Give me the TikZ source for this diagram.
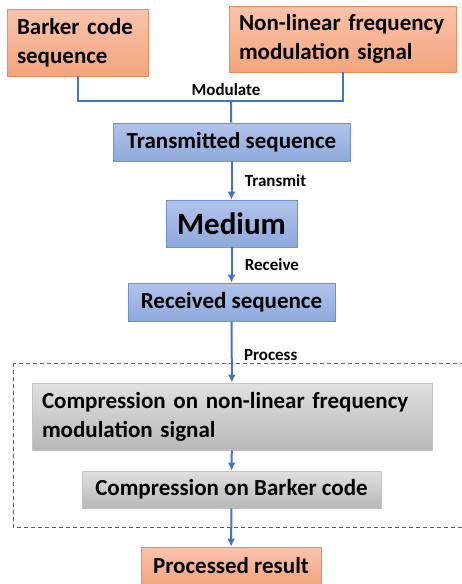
\documentclass[tikz,border=0pt]{standalone}
\usepackage{fontspec}
\setmainfont{Carlito}
\usetikzlibrary{positioning,arrows.meta}
\definecolor{orTop}{HTML}{F9C4AC}
\definecolor{orBot}{HTML}{F4A47E}
\definecolor{orLine}{HTML}{EE8A5C}
\definecolor{blTop}{HTML}{B1C3E9}
\definecolor{blBot}{HTML}{8EA9DC}
\definecolor{blLine}{HTML}{7190D0}
\definecolor{grTop}{HTML}{E0E0E0}
\definecolor{grBot}{HTML}{B8B8B8}
\definecolor{grLine}{HTML}{C4C4C4}
\definecolor{arrowBlue}{HTML}{4472C4}
\definecolor{dashLine}{HTML}{50628A}
\tikzset{
  orbox/.style={draw=orLine,thick,top color=orTop,bottom color=orBot,inner xsep=10pt,font=\bfseries\fontsize{23}{29}\selectfont},
  blbox/.style={draw=blLine,thick,top color=blTop,bottom color=blBot,font=\bfseries\fontsize{23}{29}\selectfont},
  grbox/.style={draw=grLine,thick,top color=grTop,bottom color=grBot,inner xsep=10pt,font=\bfseries\fontsize{23}{29}\selectfont},
  link/.style={arrowBlue,line width=2pt},
  flow/.style={link,-{Latex[length=8pt,width=8pt]}},
  lbl/.style={black,font=\bfseries\fontsize{17}{19}\selectfont}
}
\begin{document}
\begin{tikzpicture}[x=1pt,y=-1pt]
    \useasboundingbox (0,0) rectangle (461,584);
    % inputs
    \node (barker) [orbox,text width=121pt,align=left,minimum height=67pt] at (77.5,42.5) {Barker code\\sequence};
    \node (nlfm)   [orbox,text width=207pt,align=left,minimum height=66pt] at (342.5,39) {Non-linear frequency\\modulation signal};
    \coordinate (mod) at (231,101);
    % channel
    \node (trans) [blbox,minimum width=237pt,minimum height=38pt] at (231.5,142) {Transmitted sequence};
    \node (medium) [blbox,minimum width=131pt,minimum height=47pt,font=\bfseries\fontsize{31}{33}\selectfont] at (231.5,223.5) {Medium};
    \node (recv) [blbox,minimum width=207pt,minimum height=38pt] at (231.5,302) {Received sequence};
    % processing
    \draw[dashLine,thin,dash pattern=on 4pt off 3pt] (13,363) rectangle (470,527);
    \node (compA) [grbox,text width=380pt,align=left,minimum height=67pt] at (232,416.5) {Compression on non-linear frequency\\modulation signal};
    \node (compB) [grbox,minimum width=299pt,minimum height=37pt] at (231.5,489.5) {Compression on Barker code};
    \node (result) [orbox,minimum width=180pt,minimum height=38pt] at (231,566) {Processed result};

    \draw[link] (barker) |- (mod) node[above=1pt,xshift=-5pt,lbl] {Modulate} -| (nlfm);
    \draw[link] (mod) -- (trans);
    \draw[flow] (trans) -- node[right=9pt,lbl] {Transmit} (medium);
    \draw[flow] (medium) -- node[right=9pt,lbl] {Receive} (recv);
    \draw[flow] (recv) -- node[right=8pt,yshift=-3pt,lbl] {Process} (compA);
    \draw[flow] (compA) -- (compB);
    \draw[flow] (compB) -- (result);
\end{tikzpicture}
\end{document}
